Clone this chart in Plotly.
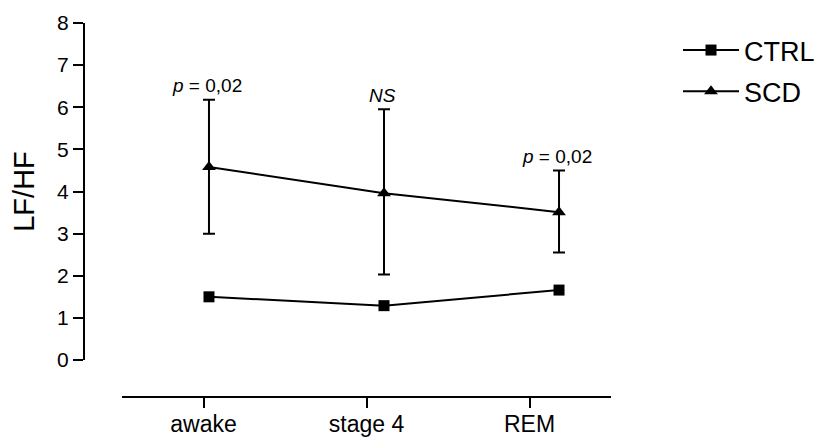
import plotly.graph_objects as go

categories = ["awake", "stage 4", "REM"]
ctrl_values = [1.50, 1.29, 1.66]
scd_values = [4.58, 3.96, 3.51]
scd_upper = [6.18, 5.95, 4.50]
scd_lower = [3.00, 2.03, 2.55]
p_labels = ["<i>p</i> = 0,02", "<i>NS</i>", "<i>p</i> = 0,02"]
y_ticks = [0, 1, 2, 3, 4, 5, 6, 7, 8]

pos = list(range(len(categories)))
FONT = "Liberation Sans, Arial, sans-serif"

# page body has an 8px default margin; the figure is sized to fit the 825x438 window
W, H = 817, 430

fig = go.Figure()
# invisible trace on the visible categorical x-axis
fig.add_trace(go.Scatter(x=pos, y=[None] * len(pos), showlegend=False, hoverinfo="skip"))

fig.add_trace(go.Scatter(
    x=pos, y=ctrl_values, name="CTRL", mode="lines+markers", xaxis="x2",
    line=dict(color="black", width=2),
    marker=dict(symbol="square", size=11, color="black"),
    legendgroup="a", cliponaxis=False,
))
fig.add_trace(go.Scatter(
    x=pos, y=scd_values, name="SCD", mode="lines+markers", xaxis="x2",
    line=dict(color="black", width=2),
    marker=dict(symbol="triangle-up", size=12, color="black"),
    error_y=dict(type="data", symmetric=False,
                 array=[u - v for u, v in zip(scd_upper, scd_values)],
                 arrayminus=[v - l for v, l in zip(scd_values, scd_lower)],
                 color="black", thickness=2, width=6),
    legendgroup="b", cliponaxis=False,
))

for i, (lab, up) in enumerate(zip(p_labels, scd_upper)):
    fig.add_annotation(x=pos[i], y=up, xref="x2", yref="y", text=lab, showarrow=False,
                       yanchor="middle", yshift=14, xshift=-2,
                       font=dict(family=FONT, size=19, color="black"))

fig.update_layout(
    width=W, height=H,
    margin=dict(l=76, r=214, t=15, b=41),
    paper_bgcolor="white", plot_bgcolor="white",
    font=dict(family=FONT, color="black"),
    xaxis=dict(domain=[38 / 527, 1], range=[-0.5, 2.5], anchor="free", position=0,
               tickvals=pos, ticktext=categories, automargin=False,
               showline=True, linecolor="black", linewidth=2,
               ticks="outside", ticklen=10, tickwidth=2, tickcolor="black",
               showgrid=False, zeroline=False, ticklabelstandoff=-4,
               tickfont=dict(size=23, family=FONT, color="black")),
    xaxis2=dict(overlaying="x", range=[-0.497, 2.297], visible=False, automargin=False),
    yaxis=dict(domain=[37 / 374, 1], range=[0, 8], anchor="free", position=0,
               tickvals=y_ticks, showline=True, linecolor="black", linewidth=2,
               ticks="outside", ticklen=10, tickwidth=2, tickcolor="black",
               showgrid=False, zeroline=False, automargin=False,
               tickfont=dict(size=21, family=FONT, color="black"),
               title=dict(text="LF/HF", font=dict(size=29, family=FONT, color="black"),
                          standoff=31)),
    legend=dict(xref="container", yref="container", x=670 / W, y=1 - 18 / H,
                xanchor="left", yanchor="top", font=dict(size=27, family=FONT, color="black"),
                tracegroupgap=3, traceorder="grouped", itemwidth=56,
                bgcolor="rgba(0,0,0,0)"),
)

fig.write_html("out.html")
